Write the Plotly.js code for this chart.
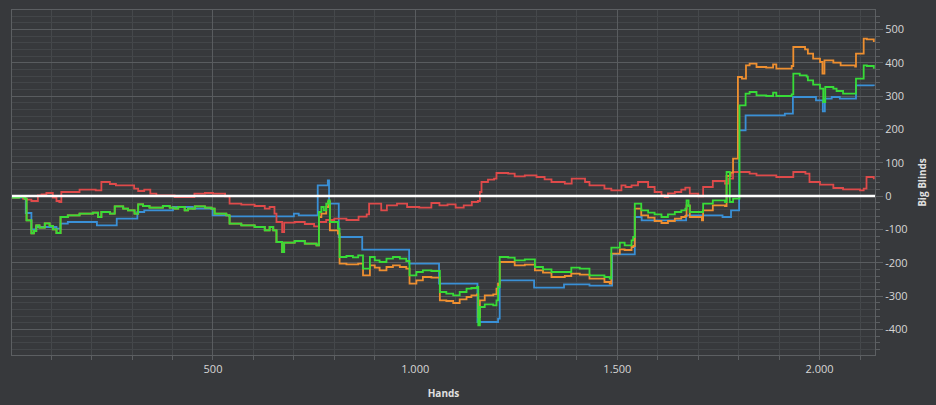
<!DOCTYPE html>
<html>
<head>
<meta charset="utf-8">
<script src="https://cdn.plot.ly/plotly-3.0.1.min.js"></script>
<style>
html,body{margin:0;padding:0;background:#37393c;}
#chart{width:936px;height:405px;}
</style>
</head>
<body>
<div id="chart"></div>
<script>
// Hands / Big Blinds
const greenHands = [3,20,34,39,51,57,63,71,84,96,104,113,123,141,170,203,216,224,245,257,278,290,306,315,327,343,376,393,405,414,430,438,455,480,496,504,533,541,570,603,628,640,649,657,671,676,702,727,756,762,768,774,780,785,789,809,813,830,846,859,871,888,900,912,929,945,962,978,986,1003,1019,1040,1061,1077,1094,1110,1127,1139,1153,1156,1160,1172,1193,1201,1205,1209,1230,1246,1271,1296,1316,1337,1370,1386,1407,1431,1468,1481,1485,1506,1518,1535,1539,1543,1559,1576,1592,1609,1625,1642,1658,1668,1671,1676,1679,1709,1712,1736,1766,1770,1778,1786,1798,1802,1817,1827,1844,1868,1885,1893,1931,1935,1951,1968,1971,1984,2001,2009,2014,2034,2042,2058,2088,2090,2109,2117,2134];
const greenBB    = [-5,-3,-8,-73,-112,-105,-88,-95,-82,-90,-100,-111,-63,-58,-53,-50,-63,-48,-53,-31,-38,-43,-53,-25,-30,-35,-30,-35,-38,-33,-43,-38,-31,-35,-38,-53,-58,-83,-88,-93,-103,-93,-103,-138,-168,-140,-135,-143,-148,-48,-33,-43,-23,-13,-78,-98,-183,-180,-184,-178,-218,-183,-193,-198,-188,-183,-188,-195,-238,-228,-223,-225,-288,-293,-298,-288,-278,-276,-273,-388,-333,-325,-328,-313,-273,-183,-185,-193,-190,-213,-220,-228,-228,-215,-218,-238,-243,-248,-155,-140,-148,-133,-123,-23,-43,-50,-55,-63,-55,-48,-43,-38,-13,-30,-48,-48,-23,-13,-18,72,-18,-8,-8,272,307,312,302,300,310,300,305,367,362,358,347,334,322,282,327,322,315,307,307,352,392,390,382];

const orangeHands = [3,20,34,39,51,57,63,71,84,96,104,113,123,141,170,203,216,224,245,257,278,290,306,315,327,343,376,393,405,414,430,438,455,480,496,504,533,541,570,603,628,640,649,657,671,676,702,727,756,762,768,780,785,789,809,813,830,859,871,888,900,912,929,945,962,978,986,1003,1019,1040,1061,1077,1094,1110,1127,1139,1153,1156,1160,1172,1193,1201,1205,1209,1230,1246,1271,1296,1316,1337,1370,1386,1407,1431,1468,1481,1485,1506,1518,1535,1539,1543,1559,1576,1592,1609,1625,1642,1658,1668,1671,1679,1709,1712,1736,1766,1770,1780,1786,1798,1808,1818,1827,1844,1868,1885,1893,1931,1935,1951,1964,1971,1984,2001,2007,2012,2034,2052,2088,2090,2109,2117,2134];
const orangeBB    = [-5,-3,-8,-73,-112,-105,-88,-95,-82,-90,-100,-111,-63,-58,-53,-50,-63,-48,-53,-31,-38,-43,-53,-25,-30,-35,-30,-35,-38,-33,-43,-38,-31,-35,-38,-53,-58,-83,-88,-93,-103,-93,-103,-138,-168,-140,-135,-143,-148,-63,-53,-33,-18,-103,-113,-203,-205,-203,-238,-208,-215,-223,-213,-208,-213,-218,-263,-253,-243,-245,-313,-315,-321,-310,-303,-298,-295,-363,-313,-298,-295,-278,-263,-198,-198,-208,-206,-223,-230,-243,-240,-233,-236,-248,-258,-263,-173,-160,-162,-153,-150,-38,-58,-65,-75,-81,-75,-68,-63,-60,-28,-63,-73,-43,-28,-30,60,70,112,357,352,392,397,387,385,395,382,390,447,447,440,427,412,402,367,407,400,392,388,427,472,470,462];

const blueHands = [3,34,37,47,51,63,113,123,141,213,262,313,330,401,450,499,540,700,712,759,784,787,811,869,985,1059,1154,1205,1209,1294,1368,1431,1487,1543,1560,1670,1760,1781,1801,1817,1914,1934,1991,2008,2013,2030,2050,2090,2134];
const blueBB    = [-5,-8,-51,-51,-100,-93,-98,-83,-78,-88,-68,-48,-43,-33,-38,-58,-61,-53,-58,32,47,-23,-123,-161,-203,-263,-378,-368,-253,-275,-265,-269,-175,-63,-73,-58,-63,-43,197,242,247,297,287,254,292,297,292,332,330];

const redHands = [3,30,39,51,67,76,88,104,113,120,125,170,210,224,245,260,290,305,315,330,345,360,390,405,440,454,480,500,530,541,570,603,628,640,652,657,671,676,702,727,750,762,780,800,830,860,880,886,915,916,930,955,980,1010,1040,1060,1080,1100,1120,1140,1155,1160,1164,1180,1195,1201,1230,1246,1271,1300,1320,1337,1370,1387,1420,1431,1468,1485,1510,1520,1535,1551,1576,1592,1609,1617,1625,1642,1658,1668,1679,1700,1712,1736,1766,1775,1786,1827,1844,1893,1931,1935,1965,1975,2001,2034,2058,2100,2109,2116,2134];
const redBB    = [-3,-8,-11,-15,2,5,9,-5,-15,-18,12,19,17,42,36,32,32,22,15,19,7,2,2,-3,-3,7,9,7,-1,-23,-26,-30,-38,-33,-53,-78,-108,-80,-78,-84,-91,-78,-72,-68,-72,-62,-55,-23,-23,-43,-28,-23,-33,-35,-21,-28,-25,-35,-28,-18,-15,12,42,49,52,69,67,59,62,57,50,42,37,52,42,32,22,17,32,27,32,42,27,12,2,-3,8,12,19,25,7,-1,27,45,37,52,72,67,62,57,57,72,67,42,34,24,20,17,22,57,50];

const yTickVals = [-400,-300,-200,-100,0,100,200,300,400,500];
const yTickText = ['-400','-300','-200','-100','0','100','200','300','400','500'];
const xTickVals = [500,1000,1500,2000];
const xTickText = ['500','1.000','1.500','2.000'];

function series(x, y, color) {
  return {x: x, y: y, type: 'scatter', mode: 'lines',
          line: {color: color, width: 1.8, shape: 'hv'}, hoverinfo: 'skip'};
}

const traces = [
  series(blueHands, blueBB, '#3a90d6'),
  series(redHands, redBB, '#de4a4a'),
  series(orangeHands, orangeBB, '#ee8f30'),
  series(greenHands, greenBB, '#37dc37')
];

const fontFam = '"Open Sans", "Noto Sans", sans-serif';
const layout = {
  width: 936, height: 405,
  margin: {l: 12, r: 61, t: 10, b: 50},
  paper_bgcolor: '#37393c',
  plot_bgcolor: '#37393c',
  showlegend: false,
  font: {family: fontFam, color: '#d6d6d6', size: 11},
  xaxis: {
    range: [3, 2137],
    tickmode: 'array', tickvals: xTickVals, ticktext: xTickText,
    ticks: 'outside', ticklen: 4, tickcolor: '#5c5f62',
    showgrid: true, gridcolor: '#595c5f', gridwidth: 1,
    zeroline: false,
    showline: true, linecolor: '#5c5f62', linewidth: 1, mirror: true,
    minor: {tickmode: 'linear', tick0: 0, dtick: 100, ticks: 'outside', ticklen: 4,
            tickcolor: '#5c5f62', showgrid: true, gridcolor: '#45484b', gridwidth: 1},
    tickfont: {size: 11, color: '#d6d6d6'},
    title: {text: '<b>Hands</b>', font: {size: 10, color: '#e0e0e0'}, standoff: 14}
  },
  yaxis: {
    side: 'right',
    range: [-477, 558],
    tickmode: 'array', tickvals: yTickVals, ticktext: yTickText,
    ticks: 'outside', ticklen: 7, tickcolor: '#5c5f62',
    showgrid: true, gridcolor: '#595c5f', gridwidth: 1,
    zeroline: false,
    showline: true, linecolor: '#5c5f62', linewidth: 1, mirror: true,
    minor: {tickmode: 'linear', tick0: 0, dtick: 20, ticks: 'outside', ticklen: 4,
            tickcolor: '#5c5f62', showgrid: true, gridcolor: '#434649', gridwidth: 1},
    tickfont: {size: 11, color: '#d6d6d6'},
    title: {text: '<b>Big Blinds</b>', font: {size: 10, color: '#e0e0e0'}, standoff: 12}
  },
  shapes: [{
    type: 'line', xref: 'paper', x0: 0, x1: 1, yref: 'y', y0: 0, y1: 0,
    line: {color: '#ffffff', width: 2.5}, layer: 'above'
  }]
};

Plotly.newPlot('chart', traces, layout, {displayModeBar: false, staticPlot: true});
</script>
</body>
</html>
